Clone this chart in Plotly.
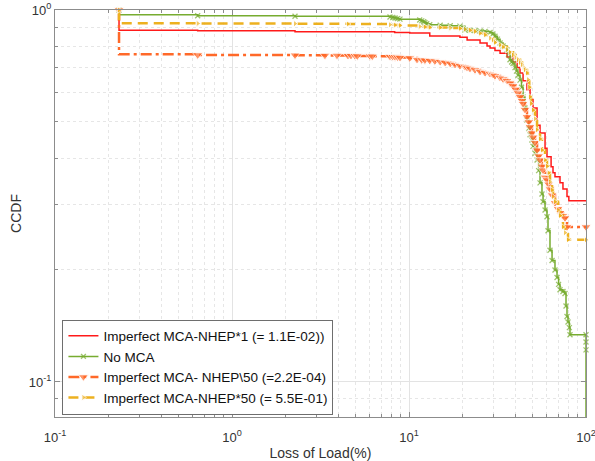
import plotly.graph_objects as go

# ---- data ----
red_x = [0.23, 0.23, 0.64, 2.27, 8.3, 10.1, 13.1, 19.4, 21.3, 25.2, 27.6, 28.7, 30.6, 32.7, 35.8,
         38.7, 40.8, 42.4, 44.1, 46.4, 48.3, 50.2, 52.9, 55.0, 58.7, 60.2, 63.5, 65.1, 66.8, 71.3,
         74.1, 78.1, 80.0, 100]
red_y = [1.0, 0.882, 0.879, 0.874, 0.870, 0.867, 0.851, 0.845, 0.830, 0.815, 0.800, 0.790, 0.778, 0.765, 0.748,
         0.725, 0.700, 0.677, 0.645, 0.610, 0.575, 0.545, 0.490, 0.467, 0.425, 0.403, 0.379, 0.365, 0.356, 0.343,
         0.330, 0.315, 0.307, 0.307]

green_x = [0.23, 0.23, 0.64, 2.27, 7.81, 8.10, 8.34, 8.60, 8.89, 11.5, 11.8, 12.1, 12.3, 12.6, 13.1,
           15.0, 17.1, 19.4, 20.7, 22.1, 23.6, 25.2, 26.9, 28.7, 29.8, 30.6, 31.6, 32.7, 34.0, 35.8,
           36.5, 37.2, 38.0, 38.7, 39.7, 40.5, 41.3, 42.4, 43.2, 44.1, 45.2, 46.4, 47.5, 48.3, 49.5,
           50.2, 51.5, 52.9, 54.0, 55.0, 56.4, 57.2, 58.7, 60.2, 61.0, 62.6, 64.3, 66.8, 68.6, 70.0,
           71.3, 74.1, 76.1, 77.1, 78.1, 79.1, 80.5, 81.2, 100, 100, 100]
green_y = [1.0, 0.971, 0.965, 0.962, 0.958, 0.955, 0.952, 0.948, 0.945, 0.940, 0.935, 0.930, 0.925, 0.918, 0.913,
           0.910, 0.907, 0.905, 0.884, 0.882, 0.880, 0.878, 0.876, 0.870, 0.862, 0.850, 0.835, 0.815, 0.800, 0.781,
           0.760, 0.735, 0.725, 0.718, 0.700, 0.685, 0.668, 0.648, 0.620, 0.584, 0.545, 0.506, 0.480, 0.462, 0.447,
           0.430, 0.412, 0.395, 0.370, 0.343, 0.320, 0.305, 0.290, 0.278, 0.255, 0.226, 0.212, 0.200, 0.191, 0.183,
           0.177, 0.175, 0.173, 0.160, 0.150, 0.145, 0.140, 0.134, 0.134, 0.128, 0.122]

orange_x = [0.23, 0.23, 0.64, 2.27, 3.35, 3.92, 4.52, 4.70, 4.95, 5.10, 6.02, 6.20, 7.81, 8.10, 8.34,
            8.60, 8.89, 10.1, 11.1, 11.8, 12.3, 13.1, 14.0, 15.0, 16.0, 17.1, 18.2, 19.4, 20.7, 21.3,
            22.1, 23.6, 25.2, 26.9, 28.7, 29.8, 30.6, 32.7, 34.0, 35.8, 37.2, 38.7, 40.0, 41.3, 42.4,
            43.5, 44.1, 45.2, 46.4, 47.5, 48.3, 49.5, 50.2, 51.5, 52.9, 54.0, 55.0, 56.4, 57.2, 58.7,
            60.2, 61.5, 62.6, 64.3, 66.8, 69.5, 71.3, 74.1, 76.1, 78.1, 100]
orange_y = [1.0, 0.760, 0.757, 0.756, 0.755, 0.755, 0.754, 0.754, 0.753, 0.752, 0.752, 0.751, 0.750, 0.749, 0.748,
            0.747, 0.745, 0.743, 0.736, 0.734, 0.733, 0.731, 0.729, 0.726, 0.722, 0.718, 0.713, 0.708, 0.704, 0.700,
            0.696, 0.690, 0.683, 0.678, 0.674, 0.670, 0.665, 0.658, 0.652, 0.645, 0.636, 0.625, 0.612, 0.598, 0.584,
            0.570, 0.560, 0.540, 0.516, 0.500, 0.485, 0.467, 0.455, 0.440, 0.420, 0.405, 0.395, 0.380, 0.371, 0.355,
            0.349, 0.340, 0.330, 0.318, 0.303, 0.292, 0.285, 0.280, 0.276, 0.261, 0.261]

yellow_x = [0.23, 0.23, 0.64, 2.27, 4.52, 7.81, 8.34, 8.89, 11.5, 12.3, 13.1, 15.0, 17.1, 19.4, 20.7,
            22.1, 23.6, 25.2, 26.9, 28.7, 29.8, 30.6, 32.7, 34.0, 35.8, 37.2, 38.7, 40.0, 41.3, 42.4,
            43.5, 44.5, 45.2, 46.4, 47.0, 47.8, 48.3, 49.0, 50.2, 51.5, 52.9, 55.0, 56.4, 58.7, 60.2,
            61.5, 62.6, 64.3, 65.1, 66.8, 69.5, 71.3, 74.1, 76.1, 79.1, 100]
yellow_y = [1.0, 0.921, 0.920, 0.919, 0.917, 0.913, 0.911, 0.909, 0.903, 0.900, 0.898, 0.897, 0.895, 0.892, 0.888,
            0.882, 0.875, 0.866, 0.857, 0.840, 0.830, 0.818, 0.805, 0.795, 0.782, 0.770, 0.757, 0.745, 0.735, 0.722,
            0.712, 0.700, 0.690, 0.677, 0.650, 0.620, 0.584, 0.560, 0.538, 0.510, 0.476, 0.450, 0.420, 0.395, 0.380,
            0.365, 0.345, 0.328, 0.315, 0.305, 0.290, 0.280, 0.261, 0.252, 0.241, 0.241]

names = ["Imperfect MCA-NHEP*1 (= 1.1E-02))",
         "No MCA",
         "Imperfect MCA- NHEP\\50 (=2.2E-04)",
         "Imperfect MCA-NHEP*50 (= 5.5E-01)"]

x_tickvals = [0.1, 1, 10, 100]
x_ticktext = ["10<sup>-1</sup>", "10<sup>0</sup>", "10<sup>1</sup>", "10<sup>2</sup>"]
y_tickvals = [0.1, 1]
y_ticktext = ["10<sup>-1</sup>", "10<sup>0</sup>"]

# ---- styling ----
RED = "#FF1A1A"
GREEN = "#77AC30"
ORANGE = "#FF6929"
YELLOW = "#EDB120"
FONT = "Liberation Sans, Arial, Helvetica, sans-serif"
X_RANGE = [-1, 2]
Y_RANGE = [-1.0942, 0]

# "No MCA" reaches zero at 100 %: its final vertical drop runs to the bottom of the log axis
green_x_plot = green_x + [green_x[-1]]
green_y_plot = green_y + [10 ** Y_RANGE[0]]


def sizes(n, s, hide_last=False):
    out = [s] * n
    out[1] = 0  # no marker at the first corner
    if hide_last:
        out[-1] = 0
    return out


fig = go.Figure()
fig.add_trace(go.Scatter(x=red_x, y=red_y, name=names[0], mode="lines", line_shape="hv",
                         line=dict(color=RED, width=1.5)))
fig.add_trace(go.Scatter(x=green_x_plot, y=green_y_plot, name=names[1], mode="lines+markers", line_shape="hv",
                         line=dict(color=GREEN, width=1.5), cliponaxis=False,
                         marker=dict(symbol="x-thin", size=sizes(len(green_x_plot), 5, hide_last=True),
                                     line=dict(color=GREEN, width=1.3), color=GREEN)))
fig.add_trace(go.Scatter(x=orange_x, y=orange_y, name=names[2], mode="lines+markers", line_shape="hv",
                         line=dict(color=ORANGE, width=2.5, dash="11px,4px,3px,4px"), cliponaxis=False,
                         marker=dict(symbol="triangle-down", size=sizes(len(orange_x), 9), color=ORANGE)))
fig.add_trace(go.Scatter(x=yellow_x, y=yellow_y, name=names[3], mode="lines+markers", line_shape="hv",
                         line=dict(color=YELLOW, width=2.5, dash="10px,6px"), cliponaxis=False,
                         marker=dict(symbol="triangle-right", size=sizes(len(yellow_x), 6), color=YELLOW)))

minor_x = [m * 10 ** e for e in range(-1, 2) for m in range(2, 10)]
minor_y = [0.09] + [m / 10 for m in range(2, 10)]

axis_common = dict(
    type="log", showline=True, linecolor="#8c8c8c", linewidth=1, mirror="allticks",
    ticks="inside", ticklen=5, tickcolor="#8c8c8c", tickwidth=1,
    showgrid=True, gridcolor="#e3e3e3", gridwidth=1,
    zeroline=False, tickfont=dict(family=FONT, size=13, color="#333333"),
    tickmode="array", ticklabeloverflow="allow",
)

fig.update_xaxes(**axis_common, range=X_RANGE, tickvals=x_tickvals, ticktext=x_ticktext,
                 ticklabelstandoff=8,
                 minor=dict(tickmode="array", tickvals=minor_x, ticks="inside", ticklen=3,
                            tickcolor="#8c8c8c", showgrid=True, gridcolor="#e6e6e6", griddash="dot"),
                 title=dict(text="Loss of Load(%)", font=dict(family=FONT, size=14, color="#333333"),
                            standoff=4))
fig.update_yaxes(**axis_common, range=Y_RANGE, tickvals=y_tickvals, ticktext=y_ticktext,
                 minor=dict(tickmode="array", tickvals=minor_y, ticks="inside", ticklen=3,
                            tickcolor="#8c8c8c", showgrid=True, gridcolor="#e6e6e6", griddash="dot"),
                 title=dict(text="CCDF", font=dict(family=FONT, size=14, color="#333333"), standoff=3))

fig.update_layout(
    width=595, height=461,
    margin=dict(l=55, r=9, t=10, b=44, autoexpand=False),
    paper_bgcolor="white", plot_bgcolor="white",
    font=dict(family=FONT, color="#222222"),
    legend=dict(x=0.014, y=0.006, xanchor="left", yanchor="bottom",
                bgcolor="white", bordercolor="#6e6e6e", borderwidth=1,
                font=dict(family=FONT, size=13.5, color="#111111"),
                itemwidth=30, tracegroupgap=0),
    showlegend=True,
)

# the page's default 8px body margin would shift the whole figure
fig.write_html("out.html", config={"displayModeBar": False},
               post_script="document.body.style.margin='0px';")
